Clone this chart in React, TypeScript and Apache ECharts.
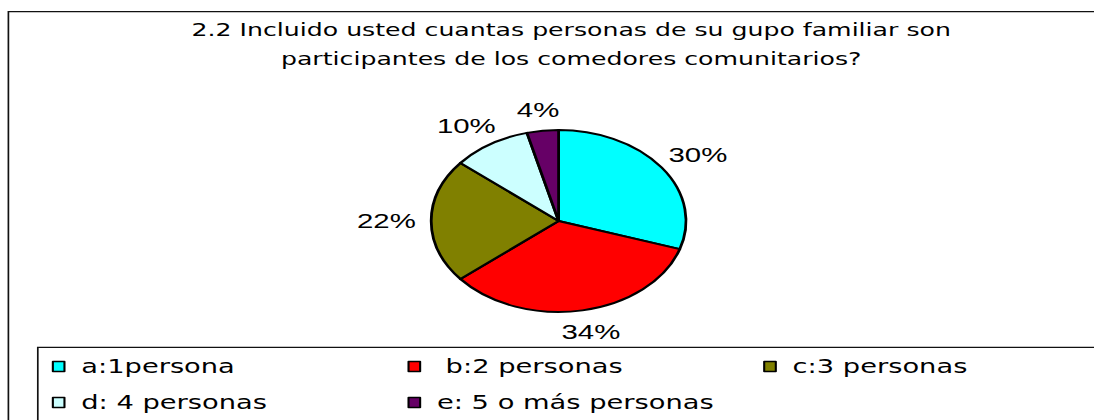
import React, { useEffect, useRef } from "react";
import * as echarts from "echarts";

const titleLines = [
  "2.2 Incluido usted cuantas personas de su gupo familiar son",
  "participantes de los comedores comunitarios?",
];
const categories = [
  "a:1persona",
  " b:2 personas",
  "c:3 personas",
  "d: 4 personas",
  "e: 5 o más personas",
];
const values = [30, 34, 22, 10, 4];
const colors = ["#00FFFF", "#FF0000", "#808000", "#CCFFFF", "#660066"];

// the original chart is stretched horizontally
const S = 1.4;
const W = 782;
const H = 420;
const CX = 399;
const CY = 221;
const R = 91;
const GAP = 11;

export default function App() {
  const ref = useRef<HTMLDivElement>(null);
  useEffect(() => {
    const el = ref.current;
    if (!el) return;
    const chart = echarts.init(el, null, { renderer: "svg" });
    const data = categories.map((name, i) => ({ name, value: values[i] }));
    const total = values.reduce((a, b) => a + b, 0);
    chart.setOption({
      animation: false,
      color: colors,
      title: {
        text: titleLines.join("\n"),
        left: 408,
        top: 15,
        padding: 0,
        textAlign: "center",
        textStyle: {
          fontFamily: "DejaVu Sans",
          fontSize: 18,
          fontWeight: "normal",
          color: "#000",
          lineHeight: 29,
        },
      },
      graphic: [
        {
          type: "rect",
          silent: true,
          shape: { x: 6, y: 11.7, width: 3000, height: 1000 },
          style: { fill: "none", stroke: "#111", lineWidth: 1.2 },
        },
        {
          type: "rect",
          silent: true,
          shape: { x: 27, y: 347.3, width: 3000, height: 1000 },
          style: { fill: "none", stroke: "#111", lineWidth: 1.2 },
        },
      ],
      legend: {
        data: categories,
        left: 37,
        top: 348.5,
        width: 770,
        padding: 0,
        itemGap: 0,
        itemWidth: 8.3,
        itemHeight: 10,
        icon: "rect",
        selectedMode: false,
        itemStyle: { borderColor: "#000", borderWidth: 1.5 },
        textStyle: {
          fontFamily: "DejaVu Sans",
          fontSize: 19.5,
          color: "#000",
          width: 233,
          lineHeight: 36,
          padding: [0, 0, 0, 7],
        },
      },
      series: [
        {
          type: "pie",
          silent: true,
          center: [CX, CY],
          radius: R,
          startAngle: 90,
          clockwise: true,
          avoidLabelOverlap: false,
          label: {
            show: true,
            position: "inside",
            formatter: "{d}%",
            fontFamily: "Liberation Sans",
            fontSize: 21,
            color: "#000",
          },
          labelLine: { show: false },
          labelLayout: (params: any) => {
            const i = params.dataIndex;
            let cum = 0;
            for (let k = 0; k < i; k++) cum += values[k];
            const mid = ((cum + values[i] / 2) / total) * Math.PI * 2;
            const dx = Math.sin(mid);
            const dy = -Math.cos(mid);
            const w = params.labelRect.width;
            const h = params.labelRect.height;
            return {
              x: CX + dx * (R + GAP + w / 2),
              y: CY + dy * (R + GAP + h / 2),
              align: "center",
              verticalAlign: "middle",
            };
          },
          itemStyle: { borderColor: "#000", borderWidth: 2 },
          emphasis: { disabled: true },
          data,
        },
      ],
    });
    return () => chart.dispose();
  }, []);
  return (
    <div
      style={{
        position: "absolute",
        left: 0,
        top: 0,
        width: 1094,
        height: 420,
        overflow: "hidden",
        background: "#fff",
      }}
    >
      <div
        ref={ref}
        style={{
          width: W,
          height: H,
          transform: `scaleX(${S})`,
          transformOrigin: "0 0",
        }}
      />
    </div>
  );
}
